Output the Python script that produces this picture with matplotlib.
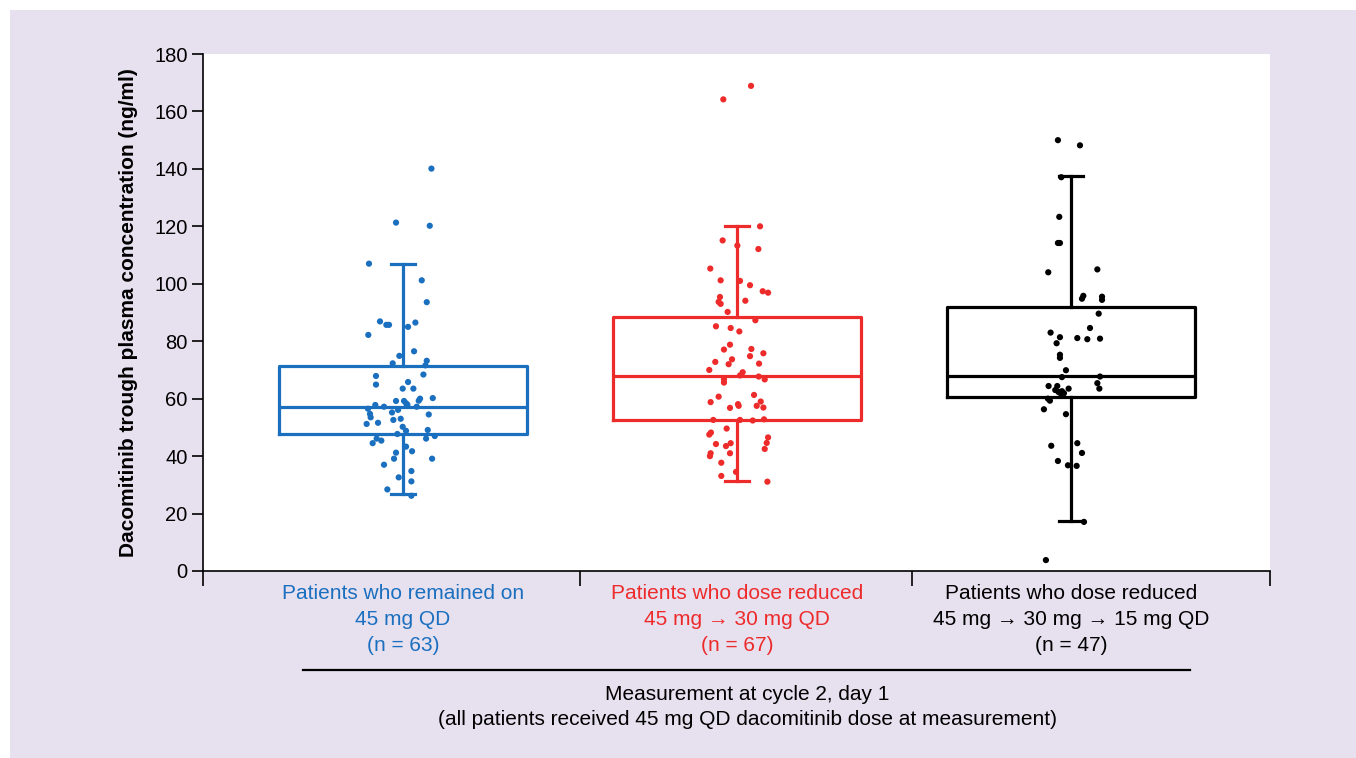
"""Dacomitinib trough concentration by dose-reduction group: box plot with jittered points."""

import matplotlib.pyplot as plt
from matplotlib.patches import Rectangle

plt.rcParams["font.family"] = ["Liberation Sans", "DejaVu Sans"]

BG = "#e6e0ef"
COLORS = ["#1b6fbf", "#ee2b2b", "#000000"]

GROUP_LABELS = [
    "Patients who remained on\n45 mg QD\n(n = 63)",
    "Patients who dose reduced\n45 mg \u2192 30 mg QD\n(n = 67)",
    "Patients who dose reduced\n45 mg \u2192 30 mg \u2192 15 mg QD\n(n = 47)",
]

# box stats: whisker low, Q1, median, Q3, whisker high
BOX_LOW = [26.8, 31.3, 17.4]
BOX_Q1 = [47.7, 52.6, 60.6]
BOX_MED = [57.1, 67.9, 67.9]
BOX_Q3 = [71.4, 88.4, 91.9]
BOX_HIGH = [106.9, 120.1, 137.5]

# individual patients: value and horizontal jitter (category units)
blue_vals = [140.1, 121.3, 120.2, 107.0, 101.2, 93.6, 86.9, 85.7, 85.7, 85.0,
             86.5, 82.2, 76.5, 74.9, 72.3, 73.2, 71.6, 68.4, 67.9, 64.9,
             65.8, 63.5, 63.5, 60.0, 59.3, 60.2, 59.2, 59.2, 58.4, 57.9,
             57.8, 57.2, 56.5, 57.2, 56.1, 55.2, 54.7, 53.5, 54.5, 53.0,
             52.6, 51.2, 51.6, 50.2, 48.8, 47.7, 49.1, 47.0, 46.1, 46.1,
             45.4, 44.5, 43.3, 41.7, 41.2, 39.1, 39.1, 37.0, 34.8, 32.6,
             31.2, 28.4, 26.2]
blue_jit = [0.085, -0.021, 0.080, -0.102, 0.056, 0.071, -0.069, -0.050, -0.042, 0.015,
            0.037, -0.104, 0.033, -0.011, -0.031, 0.071, 0.067, 0.061, -0.081, -0.081,
            0.015, -0.001, 0.031, 0.051, 0.047, 0.089, -0.021, 0.003, 0.009, 0.013,
            -0.083, -0.057, -0.105, 0.041, -0.015, -0.033, -0.099, -0.097, 0.077, -0.007,
            -0.029, -0.109, -0.075, -0.001, 0.009, -0.017, 0.074, 0.095, 0.069, -0.079,
            -0.065, -0.091, 0.009, 0.027, -0.021, -0.027, 0.087, -0.057, 0.025, -0.013,
            0.025, -0.047, 0.025]

red_vals = [168.9, 164.2, 120.0, 115.1, 113.3, 112.1, 105.3, 101.2, 101.0, 99.5,
            97.4, 96.9, 95.4, 93.7, 93.0, 94.1, 90.2, 87.3, 85.2, 84.6,
            83.4, 78.8, 77.1, 77.3, 75.8, 74.8, 73.7, 72.8, 72.0, 72.2,
            70.0, 69.2, 68.1, 67.7, 66.7, 66.7, 65.6, 60.7, 61.3, 58.8,
            58.1, 57.5, 59.0, 57.5, 56.9, 56.8, 52.6, 52.6, 52.4, 52.8,
            49.6, 48.2, 47.5, 46.5, 44.6, 44.2, 44.5, 43.5, 42.5, 41.0,
            40.0, 41.0, 37.7, 34.5, 33.1, 31.1]
red_jit = [0.042, -0.041, 0.069, -0.043, 0.001, 0.064, -0.080, -0.049, 0.009, 0.039,
           0.077, 0.093, -0.051, -0.055, -0.049, 0.025, -0.028, 0.055, -0.063, -0.019,
           0.007, -0.021, -0.039, 0.043, 0.079, 0.039, -0.015, -0.065, -0.025, 0.066,
           -0.083, 0.017, 0.009, 0.065, 0.083, -0.039, -0.039, -0.055, 0.051, -0.079,
           0.003, 0.005, 0.071, 0.059, 0.079, -0.021, -0.071, 0.009, 0.047, 0.081,
           -0.031, -0.078, -0.083, 0.093, 0.089, -0.063, -0.019, -0.033, 0.083, -0.079,
           -0.081, -0.021, -0.047, -0.003, -0.047, 0.091]

black_vals = [150.0, 148.2, 137.1, 123.3, 114.2, 114.2, 104.0, 105.0, 94.8, 95.8,
              95.5, 94.4, 89.6, 84.6, 83.0, 81.4, 81.1, 80.7, 80.9, 79.3,
              75.3, 74.2, 69.9, 67.5, 67.7, 65.4, 63.5, 64.4, 64.4, 63.0,
              62.3, 62.6, 61.9, 63.5, 61.9, 59.3, 60.0, 56.3, 54.6, 43.6,
              44.5, 41.1, 38.3, 36.8, 36.6, 17.1, 3.8]
black_jit = [-0.039, 0.027, -0.029, -0.035, -0.039, -0.033, -0.068, 0.079, 0.033, 0.037,
             0.093, 0.093, 0.083, 0.057, -0.061, -0.033, 0.019, 0.049, 0.087, -0.043,
             -0.033, -0.033, -0.015, -0.027, 0.087, 0.079, 0.085, -0.067, -0.041, -0.047,
             -0.037, -0.027, -0.021, -0.007, -0.031, -0.063, -0.069, -0.081, -0.015, -0.059,
             0.019, 0.033, -0.039, -0.009, 0.017, 0.039, -0.075]

POINT_VALS = [blue_vals, red_vals, black_vals]
POINT_JIT = [blue_jit, red_jit, black_jit]


def main() -> None:
    fig = plt.figure(figsize=(13.56, 7.58), dpi=100, facecolor="white")
    fig.patches.append(
        Rectangle((10 / 1356, 0), 1 - 10 / 1356, 1 - 10 / 758,
                  transform=fig.transFigure, facecolor=BG, edgecolor="none", zorder=-10)
    )

    ax = fig.add_axes([203 / 1356, 187 / 758, 1067 / 1356, 517 / 758])
    ax.set_facecolor("white")

    for i, color in enumerate(COLORS):
        stats = [{
            "whislo": BOX_LOW[i], "q1": BOX_Q1[i], "med": BOX_MED[i],
            "q3": BOX_Q3[i], "whishi": BOX_HIGH[i], "fliers": [],
        }]
        lw = 2.3
        ax.bxp(
            stats, positions=[i], widths=0.74, showfliers=False, manage_ticks=False,
            boxprops={"color": color, "linewidth": lw},
            medianprops={"color": color, "linewidth": lw},
            whiskerprops={"color": color, "linewidth": lw},
            capprops={"color": color, "linewidth": lw},
            capwidths=0.07,
        )
        xs = [i + j for j in POINT_JIT[i]]
        ax.scatter(xs, POINT_VALS[i], s=20, color=color, edgecolors="none", zorder=3)

    ax.set_xlim(-0.599, 2.596)
    ax.set_ylim(0, 180)
    ax.set_yticks(range(0, 181, 20))
    ax.tick_params(axis="y", labelsize=14.5, length=8, width=1.2, pad=3)
    ax.set_xticks([-0.599, 0.53, 1.524, 2.596])
    ax.set_xticklabels([])
    ax.tick_params(axis="x", length=11, width=1.2)
    for side in ("top", "right"):
        ax.spines[side].set_visible(False)
    ax.spines["left"].set_linewidth(1.2)
    ax.spines["bottom"].set_linewidth(1.2)

    ax.set_ylabel("Dacomitinib trough plasma concentration (ng/ml)",
                  fontsize=15, fontweight="bold", labelpad=12)

    for i, color in enumerate(COLORS):
        ax.text(i, -4.6, GROUP_LABELS[i], color=color, fontsize=15,
                ha="center", va="top", linespacing=1.45,
                transform=ax.transData, clip_on=False)

    fig.add_artist(plt.Line2D([303 / 1356, 1190 / 1356], [88 / 758, 88 / 758],
                              color="black", linewidth=1.6, transform=fig.transFigure))
    fig.text(747 / 1356, 73 / 758,
             "Measurement at cycle 2, day 1\n"
             "(all patients received 45 mg QD dacomitinib dose at measurement)",
             ha="center", va="top", fontsize=15, linespacing=1.4)

    fig.savefig("out.png", dpi=100, facecolor=fig.get_facecolor())
    plt.close(fig)


if __name__ == "__main__":
    main()
